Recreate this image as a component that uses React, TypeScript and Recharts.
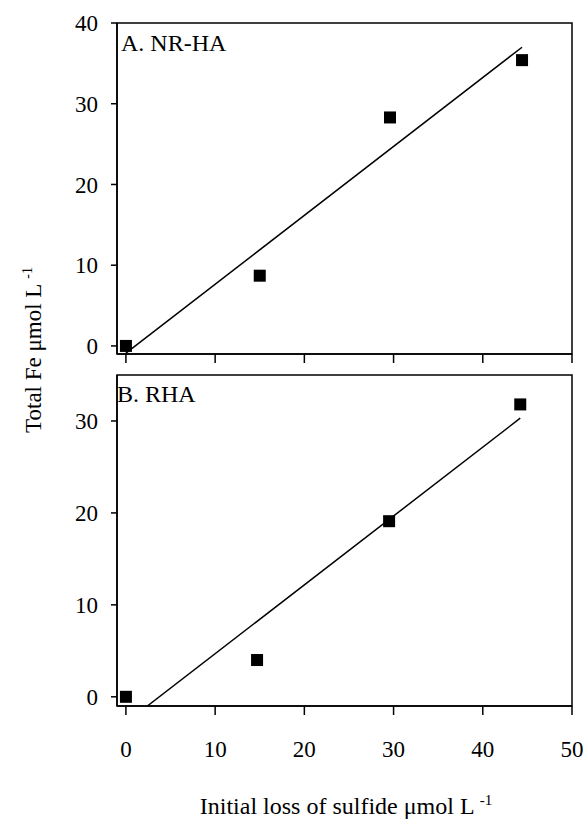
import React from "react";
import { ScatterChart, Scatter, XAxis, YAxis, ReferenceArea } from "recharts";

// Panel A: NR-HA
const lossA = [0, 15, 29.6, 44.4];
const feA = [0, 8.7, 28.3, 35.4];
const fitAx = [0, 44.4];
const fitAy = [-0.9, 37.0];

// Panel B: RHA
const lossB = [0, 14.7, 29.5, 44.2];
const feB = [0, 4.0, 19.1, 31.8];
const fitBx = [2.4, 44.2];
const fitBy = [-1, 30.3];

const xTicks = [0, 10, 20, 30, 40, 50];
const yTicksA = [0, 10, 20, 30, 40];
const yTicksB = [0, 10, 20, 30];

const font = "'Liberation Serif', 'Times New Roman', serif";

const pts = (xs: number[], ys: number[]) => xs.map((x, i) => ({ x, y: ys[i] }));

const Square = (props: any) => (
  <rect x={props.cx - 6} y={props.cy - 6} width={12} height={12} fill="#000" />
);
const NoMark = () => <g />;

const tickStyle = { fill: "#000", fontSize: 23, fontFamily: font };
const axisLine = { stroke: "#000", strokeWidth: 1.5 };

function Panel({
  data,
  fit,
  yMax,
  yTicks,
  height,
  top,
  xHeight,
  showXLabels,
}: {
  data: { x: number; y: number }[];
  fit: { x: number; y: number }[];
  yMax: number;
  yTicks: number[];
  height: number;
  top: number;
  xHeight: number;
  showXLabels: boolean;
}) {
  return (
    <ScatterChart
      width={586}
      height={height}
      margin={{ top, right: 14, bottom: 0, left: 0 }}
    >
      <XAxis
        type="number"
        dataKey="x"
        domain={[-1, 50]}
        ticks={xTicks}
        allowDataOverflow
        height={xHeight}
        tickSize={9}
        tickMargin={26}
        axisLine={axisLine}
        tickLine={axisLine}
        tick={tickStyle}
        tickFormatter={showXLabels ? undefined : () => ""}
      />
      <YAxis
        type="number"
        dataKey="y"
        domain={[-1, yMax]}
        ticks={yTicks}
        allowDataOverflow
        width={117}
        tickSize={6}
        tickMargin={13}
        axisLine={axisLine}
        tickLine={axisLine}
        tick={tickStyle}
      />
      <ReferenceArea
        x1={-1}
        x2={50}
        y1={-1}
        y2={yMax}
        fill="none"
        stroke="#000"
        strokeWidth={1.5}
      />
      <Scatter
        data={fit}
        line={{ stroke: "#000", strokeWidth: 1.5 }}
        shape={NoMark}
        isAnimationActive={false}
      />
      <Scatter data={data} shape={Square} isAnimationActive={false} />
    </ScatterChart>
  );
}

export default function App() {
  return (
    <div
      style={{
        position: "absolute",
        left: 0,
        top: 0,
        width: 586,
        height: 821,
        background: "#fff",
        fontFamily: font,
      }}
    >
      <div style={{ position: "absolute", left: 0, top: 0 }}>
        <Panel
          data={pts(lossA, feA)}
          fit={pts(fitAx, fitAy)}
          yMax={40}
          yTicks={yTicksA}
          height={370}
          top={23}
          xHeight={16}
          showXLabels={false}
        />
      </div>
      <div style={{ position: "absolute", left: 0, top: 360 }}>
        <Panel
          data={pts(lossB, feB)}
          fit={pts(fitBx, fitBy)}
          yMax={35}
          yTicks={yTicksB}
          height={461}
          top={15}
          xHeight={115}
          showXLabels={true}
        />
      </div>
      <svg
        width={586}
        height={821}
        style={{ position: "absolute", left: 0, top: 0, pointerEvents: "none" }}
        fontFamily={font}
        fontSize={24}
      >
        <text x={121} y={51} fill="#000">A. NR-HA</text>
        <text x={117} y={402} fill="#000">B. RHA</text>
        <text
          transform="translate(41,350) rotate(-90)"
          textAnchor="middle"
          fill="#000"
          fontSize={23}
        >
          Total Fe μmol L <tspan dy={-9} fontSize={14}>-1</tspan>
        </text>
        <text x={346} y={814} textAnchor="middle" fill="#000">
          Initial loss of sulfide μmol L <tspan dy={-9} fontSize={15}>-1</tspan>
        </text>
      </svg>
    </div>
  );
}
